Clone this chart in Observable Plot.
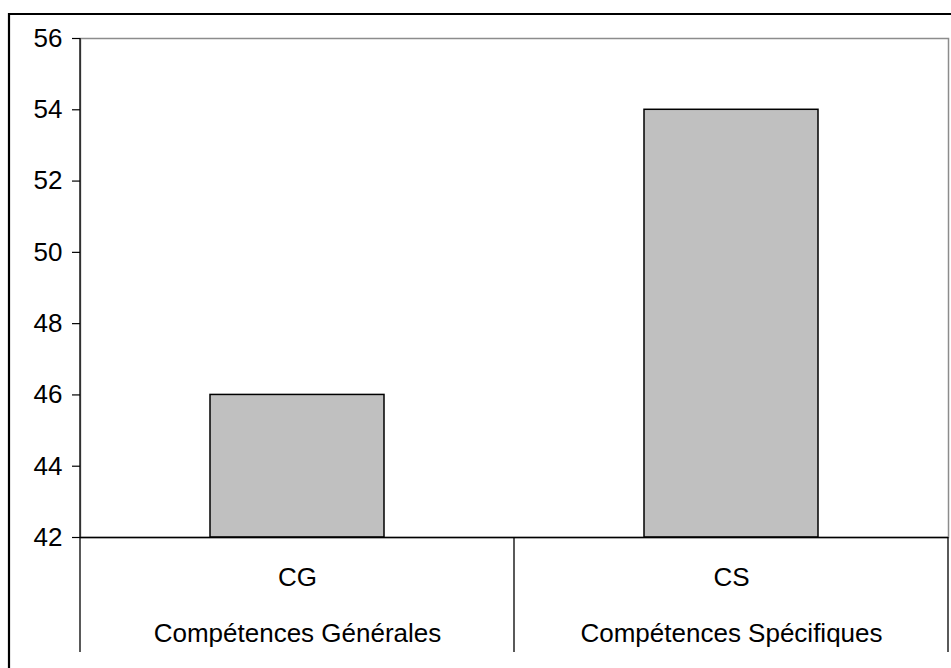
<!DOCTYPE html>
<html>
<head>
<meta charset="utf-8">
<script src="https://cdn.jsdelivr.net/npm/d3@7"></script>
<script src="https://cdn.jsdelivr.net/npm/@observablehq/plot@0.6"></script>
<style>
  html, body { margin: 0; padding: 0; background: #fff; }
  svg { display: block; }
</style>
</head>
<body>
<div id="chart"></div>
<script>
// ---- data ----
const categories = ["CG", "CS"];
const categoryNames = ["Compétences Générales", "Compétences Spécifiques"];
const values = [46, 54];
const yDomain = [42, 56];
const yTicks = [42, 44, 46, 48, 50, 52, 54, 56];

const rows = categories.map((c, i) => ({cat: c, name: categoryNames[i], value: values[i]}));

const W = 951, H = 668;
const mLeft = 80, mRight = 3, mTop = 38, mBottom = 131;

// category "table" lines + outer border drawn from the x band scale
function categoryGrid(index, scales, values, dims) {
  const x = scales.x;
  const step = typeof x.step === "function" ? x.step() : (dims.width - dims.marginLeft - dims.marginRight) / categories.length;
  const bw = typeof x.bandwidth === "function" ? x.bandwidth() : step * 0.4;
  const yBase = dims.height - dims.marginBottom;
  const yEnd = yBase + 115;
  const g = d3.create("svg:g");
  const edges = [x(categories[0]) + bw / 2 - step / 2, ...categories.map(c => x(c) + bw / 2 + step / 2)];
  edges.forEach((ex, i) => {
    g.append("line")
      .attr("x1", ex).attr("x2", ex)
      .attr("y1", i === 0 ? dims.marginTop : yBase).attr("y2", yEnd)
      .attr("stroke", "#000").attr("stroke-width", 1.3);
  });
  // outer chart-area border (top & left; right/bottom are cut off)
  g.append("path")
    .attr("d", `M9,${dims.height + 2}V14H${dims.width + 2}`)
    .attr("fill", "none").attr("stroke", "#000").attr("stroke-width", 2.2);
  return g.node();
}

const chart = Plot.plot({
  width: W,
  height: H,
  marginLeft: mLeft,
  marginRight: mRight,
  marginTop: mTop,
  marginBottom: mBottom,
  style: {fontFamily: "'Liberation Sans', Arial, sans-serif", color: "#000", background: "#fff"},
  x: {domain: categories, paddingInner: 0.6, paddingOuter: 0.3, axis: null},
  y: {domain: yDomain, axis: null},
  marks: [
    Plot.frame({stroke: "#8c8c8c", strokeWidth: 1.5}),
    Plot.barY(rows, {x: "cat", y1: yDomain[0], y2: "value", fill: "#c0c0c0", stroke: "#000", strokeWidth: 1.5}),
    Plot.ruleY([yDomain[0]], {stroke: "#000", strokeWidth: 1.3}),
    Plot.axisY({ticks: yTicks, tickSize: 8, tickPadding: 10, fontSize: 26, label: null, tickFormat: d => String(d), stroke: "#000", strokeWidth: 1.2}),
    Plot.text(rows, {x: "cat", text: "cat", frameAnchor: "bottom", dy: 48, fontSize: 26, fill: "#000"}),
    Plot.text(rows, {x: "cat", text: "name", frameAnchor: "bottom", dy: 104, fontSize: 26, fill: "#000"}),
    categoryGrid
  ]
});
document.getElementById("chart").appendChild(chart);
</script>
</body>
</html>
